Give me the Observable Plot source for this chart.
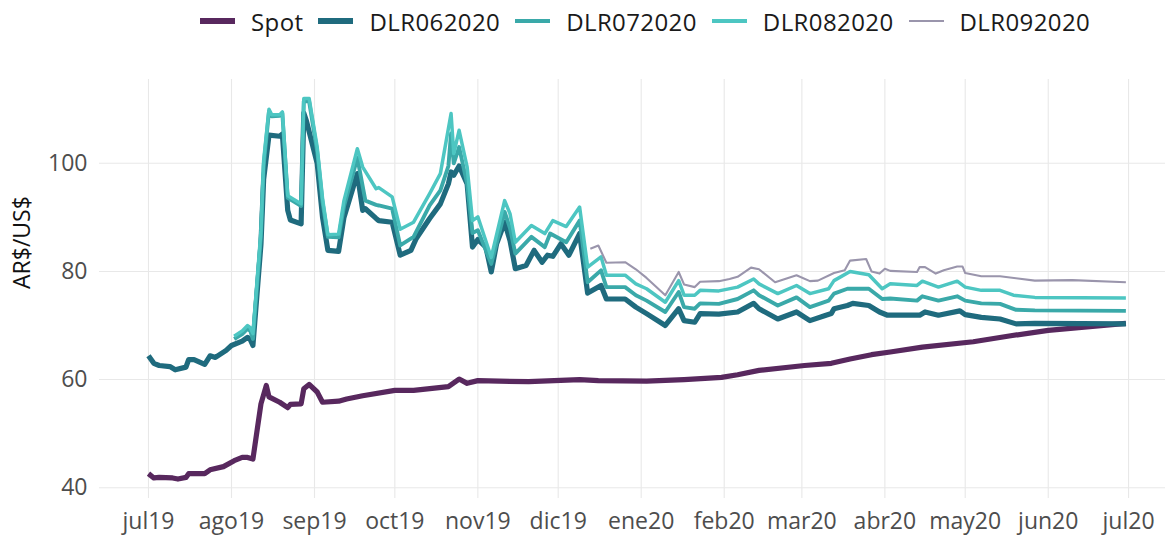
<!DOCTYPE html>
<html>
<head>
<meta charset="utf-8">
<script src="https://cdn.jsdelivr.net/npm/d3@7"></script>
<script src="https://cdn.jsdelivr.net/npm/@observablehq/plot@0.6"></script>
<style>
  body { margin: 0; background: #fff; }
  #wrap { position: relative; width: 1165px; height: 535px; overflow: hidden; font-family: 'Open Sans', sans-serif; }
  #legend { position: absolute; top: 0; left: 200px; height: 42px; display: flex; align-items: center; white-space: nowrap; }
  #legend .sw { display: inline-block; width: 35px; margin-right: 16px; }
  #legend .lb { font-size: 24px; letter-spacing: 0.4px; color: #1a1a1a; margin-right: 15px; }
  #chart { position: absolute; top: 45px; left: 0; }
</style>
</head>
<body>
<div id="wrap">
  <div id="legend"></div>
  <div id="chart"></div>
</div>
<script>
const seriesNames = ["Spot", "DLR062020", "DLR072020", "DLR082020", "DLR092020"];
const seriesColors = ["#58285e", "#1f6b7e", "#3aa9a9", "#4dc6c2", "#9a95ac"];
const seriesWidths = [5.2, 5.2, 3.9, 3.5, 2.1];

const monthTicks = ["2019-07-01","2019-08-01","2019-09-01","2019-10-01","2019-11-01","2019-12-01","2020-01-01","2020-02-01","2020-03-01","2020-04-01","2020-05-01","2020-06-01","2020-07-01"];
const monthLabels = ["jul19","ago19","sep19","oct19","nov19","dic19","ene20","feb20","mar20","abr20","may20","jun20","jul20"];
const yTicks = [40, 60, 80, 100];

const spot = [["2019-07-01",42.6],["2019-07-03",41.8],["2019-07-05",41.9],["2019-07-10",41.8],["2019-07-12",41.6],["2019-07-15",41.9],["2019-07-16",42.6],["2019-07-22",42.6],["2019-07-24",43.3],["2019-07-29",43.9],["2019-08-02",45.0],["2019-08-05",45.6],["2019-08-07",45.6],["2019-08-09",45.3],["2019-08-12",55.5],["2019-08-14",58.9],["2019-08-15",56.8],["2019-08-19",55.8],["2019-08-22",54.8],["2019-08-23",55.4],["2019-08-27",55.5],["2019-08-28",58.3],["2019-08-30",59.1],["2019-09-02",57.7],["2019-09-04",55.8],["2019-09-10",56.0],["2019-09-13",56.4],["2019-09-19",57.0],["2019-10-01",58.0],["2019-10-08",58.0],["2019-10-21",58.7],["2019-10-25",60.1],["2019-10-28",59.3],["2019-11-01",59.8],["2019-11-20",59.6],["2019-12-09",60.0],["2019-12-16",59.8],["2020-01-03",59.7],["2020-01-17",60.0],["2020-01-31",60.4],["2020-02-06",60.9],["2020-02-14",61.7],["2020-03-02",62.6],["2020-03-12",63.0],["2020-03-19",63.8],["2020-03-27",64.6],["2020-04-03",65.1],["2020-04-15",66.0],["2020-05-04",67.0],["2020-05-18",68.1],["2020-06-01",69.1],["2020-06-30",70.4]];

const dlr06 = [["2019-07-01",64.4],["2019-07-03",63.0],["2019-07-05",62.6],["2019-07-09",62.4],["2019-07-11",61.8],["2019-07-15",62.3],["2019-07-16",63.7],["2019-07-18",63.7],["2019-07-22",62.8],["2019-07-24",64.4],["2019-07-26",64.1],["2019-07-30",65.4],["2019-08-01",66.3],["2019-08-05",67.1],["2019-08-07",67.8],["2019-08-08",67.4],["2019-08-09",66.3],["2019-08-12",85.0],["2019-08-13",97.0],["2019-08-15",105.2],["2019-08-19",105.0],["2019-08-20",105.4],["2019-08-22",91.3],["2019-08-23",89.5],["2019-08-27",88.8],["2019-08-28",109.3],["2019-08-29",107.8],["2019-09-02",100.0],["2019-09-04",90.0],["2019-09-06",83.9],["2019-09-10",83.7],["2019-09-12",90.0],["2019-09-17",98.1],["2019-09-19",91.3],["2019-09-20",91.6],["2019-09-24",89.8],["2019-09-25",89.4],["2019-09-30",89.1],["2019-10-03",83.0],["2019-10-07",83.9],["2019-10-09",86.1],["2019-10-14",89.8],["2019-10-18",92.5],["2019-10-21",96.2],["2019-10-22",98.4],["2019-10-23",97.8],["2019-10-25",99.5],["2019-10-28",96.2],["2019-10-30",84.5],["2019-11-01",85.9],["2019-11-04",84.5],["2019-11-06",79.9],["2019-11-08",85.1],["2019-11-11",89.1],["2019-11-13",85.7],["2019-11-15",80.5],["2019-11-19",81.1],["2019-11-22",83.9],["2019-11-25",81.7],["2019-11-27",83.0],["2019-11-29",82.8],["2019-12-02",85.1],["2019-12-05",83.0],["2019-12-09",87.0],["2019-12-12",76.0],["2019-12-17",77.4],["2019-12-19",74.9],["2019-12-26",74.9],["2019-12-30",73.4],["2020-01-03",72.2],["2020-01-10",70.0],["2020-01-15",73.1],["2020-01-17",70.9],["2020-01-21",70.6],["2020-01-23",72.2],["2020-01-30",72.1],["2020-02-06",72.5],["2020-02-12",74.1],["2020-02-14",73.1],["2020-02-21",71.2],["2020-02-28",72.5],["2020-03-04",70.9],["2020-03-10",71.9],["2020-03-12",72.2],["2020-03-13",73.1],["2020-03-18",73.7],["2020-03-20",74.1],["2020-03-26",73.7],["2020-03-30",72.5],["2020-04-02",71.9],["2020-04-14",71.9],["2020-04-16",72.5],["2020-04-21",71.9],["2020-04-29",72.7],["2020-05-01",72.0],["2020-05-07",71.5],["2020-05-14",71.2],["2020-05-20",70.3],["2020-05-27",70.4],["2020-06-30",70.3]];

const dlr07 = [["2019-08-02",67.5],["2019-08-05",68.4],["2019-08-07",69.4],["2019-08-08",69.0],["2019-08-09",67.5],["2019-08-12",86.5],["2019-08-13",99.5],["2019-08-15",109.6],["2019-08-16",108.7],["2019-08-19",108.8],["2019-08-20",109.2],["2019-08-22",93.6],["2019-08-26",92.4],["2019-08-27",92.1],["2019-08-28",111.5],["2019-08-30",111.4],["2019-09-02",102.2],["2019-09-04",92.8],["2019-09-06",86.4],["2019-09-10",86.3],["2019-09-12",92.0],["2019-09-17",101.0],["2019-09-20",93.1],["2019-09-24",92.3],["2019-09-25",92.2],["2019-09-30",91.6],["2019-10-03",84.8],["2019-10-08",86.4],["2019-10-14",92.2],["2019-10-18",95.0],["2019-10-21",99.5],["2019-10-22",105.5],["2019-10-23",100.0],["2019-10-25",103.0],["2019-10-28",96.2],["2019-10-30",87.1],["2019-11-01",87.6],["2019-11-06",81.4],["2019-11-11",91.0],["2019-11-13",88.0],["2019-11-15",83.3],["2019-11-21",86.4],["2019-11-26",84.5],["2019-11-28",87.0],["2019-12-04",85.4],["2019-12-09",89.4],["2019-12-12",78.0],["2019-12-17",80.2],["2019-12-19",77.1],["2019-12-26",77.1],["2019-12-30",75.6],["2020-01-03",74.6],["2020-01-10",72.5],["2020-01-15",76.2],["2020-01-17",73.4],["2020-01-21",73.1],["2020-01-23",74.1],["2020-01-30",74.0],["2020-02-06",74.9],["2020-02-12",76.5],["2020-02-14",75.6],["2020-02-21",73.7],["2020-02-28",75.2],["2020-03-04",73.4],["2020-03-11",74.6],["2020-03-13",75.9],["2020-03-18",76.8],["2020-03-26",76.8],["2020-03-31",74.9],["2020-04-03",75.0],["2020-04-13",74.6],["2020-04-15",75.4],["2020-04-21",74.6],["2020-04-28",75.4],["2020-05-01",74.6],["2020-05-07",74.1],["2020-05-14",74.0],["2020-05-20",72.9],["2020-05-27",72.8],["2020-06-30",72.7]];

const dlr08 = [["2019-08-02",68.0],["2019-08-05",69.0],["2019-08-07",70.0],["2019-08-08",69.6],["2019-08-09",68.5],["2019-08-12",87.5],["2019-08-13",100.5],["2019-08-15",110.0],["2019-08-16",109.0],["2019-08-19",109.0],["2019-08-20",109.5],["2019-08-22",94.0],["2019-08-26",92.8],["2019-08-27",92.5],["2019-08-28",112.0],["2019-08-30",112.0],["2019-09-02",103.0],["2019-09-04",93.5],["2019-09-06",86.8],["2019-09-10",86.9],["2019-09-12",93.1],["2019-09-17",102.7],["2019-09-19",99.3],["2019-09-24",95.3],["2019-09-25",95.5],["2019-09-30",93.8],["2019-10-03",87.8],["2019-10-08",89.1],["2019-10-14",94.4],["2019-10-18",98.1],["2019-10-22",109.2],["2019-10-23",101.8],["2019-10-25",106.1],["2019-10-28",99.3],["2019-10-30",89.4],["2019-11-01",90.1],["2019-11-06",82.6],["2019-11-11",93.1],["2019-11-13",90.7],["2019-11-15",85.4],["2019-11-21",88.5],["2019-11-26",87.0],["2019-11-29",89.4],["2019-12-04",88.3],["2019-12-09",91.9],["2019-12-12",80.8],["2019-12-17",82.7],["2019-12-19",79.3],["2019-12-26",79.3],["2019-12-30",77.7],["2020-01-03",76.8],["2020-01-10",74.3],["2020-01-15",78.3],["2020-01-17",75.6],["2020-01-21",75.6],["2020-01-23",76.5],["2020-01-30",76.4],["2020-02-06",77.1],["2020-02-12",78.6],["2020-02-14",77.7],["2020-02-21",75.9],["2020-02-28",77.4],["2020-03-04",75.9],["2020-03-11",76.8],["2020-03-13",78.3],["2020-03-19",80.0],["2020-03-26",79.4],["2020-03-31",76.8],["2020-04-03",77.7],["2020-04-13",77.4],["2020-04-15",78.2],["2020-04-21",77.1],["2020-04-28",78.2],["2020-05-01",77.1],["2020-05-07",76.5],["2020-05-14",76.5],["2020-05-19",75.6],["2020-05-27",75.2],["2020-06-30",75.1]];

const dlr09 = [["2019-12-13",84.2],["2019-12-16",84.8],["2019-12-19",81.6],["2019-12-26",81.7],["2019-12-30",80.4],["2020-01-03",78.8],["2020-01-10",75.6],["2020-01-15",79.9],["2020-01-17",77.6],["2020-01-21",77.1],["2020-01-23",78.1],["2020-01-30",78.2],["2020-02-03",78.6],["2020-02-06",79.0],["2020-02-11",80.7],["2020-02-14",80.4],["2020-02-20",78.0],["2020-02-28",79.3],["2020-03-04",78.2],["2020-03-07",78.3],["2020-03-13",79.7],["2020-03-17",80.2],["2020-03-19",82.0],["2020-03-25",82.3],["2020-03-27",80.0],["2020-03-30",79.6],["2020-04-01",80.5],["2020-04-03",80.1],["2020-04-13",79.9],["2020-04-14",80.8],["2020-04-16",80.8],["2020-04-20",79.6],["2020-04-23",80.2],["2020-04-28",80.9],["2020-04-30",80.9],["2020-05-01",79.7],["2020-05-07",79.1],["2020-05-14",79.1],["2020-05-27",78.3],["2020-06-10",78.4],["2020-06-30",78.0]];

const seriesData = [spot, dlr06, dlr07, dlr08, dlr09];

const parse = d3.utcParse("%Y-%m-%d");
const tickDates = monthTicks.map(parse);
const labelByTime = new Map(tickDates.map((d, i) => [+d, monthLabels[i]]));

// legend
const legend = document.getElementById("legend");
seriesNames.forEach((name, i) => {
  const sw = document.createElement("span");
  sw.className = "sw";
  sw.style.height = seriesWidths[i] + "px";
  sw.style.background = seriesColors[i];
  const lb = document.createElement("span");
  lb.className = "lb";
  lb.textContent = name;
  legend.appendChild(sw);
  legend.appendChild(lb);
});

const lineMarks = seriesData.map((arr, i) =>
  Plot.line(arr.map(([d, v]) => ({date: parse(d), value: v})), {
    x: "date", y: "value",
    stroke: seriesColors[i], strokeWidth: seriesWidths[i],
    strokeLinejoin: "round", strokeLinecap: "butt"
  })
);

const chart = Plot.plot({
  width: 1165,
  height: 490,
  marginTop: 34,
  marginBottom: 37,
  marginLeft: 99,
  marginRight: 0,
  style: {fontFamily: "'Open Sans', sans-serif", fontSize: "23px", color: "#4d4d4d", background: "white", overflow: "visible"},
  x: {type: "utc", domain: [new Date(Date.UTC(2019, 5, 12, 17)), new Date(Date.UTC(2020, 6, 14, 19))]},
  y: {domain: [38, 115.5]},
  marks: [
    Plot.gridX(tickDates, {stroke: "#e8e8e8", strokeOpacity: 1, strokeWidth: 1.1}),
    Plot.gridY(yTicks, {stroke: "#e8e8e8", strokeOpacity: 1, strokeWidth: 1.1}),
    Plot.axisX(tickDates, {tickSize: 0, tickPadding: 14, fontSize: 23, label: null, tickFormat: d => labelByTime.get(+d)}),
    Plot.axisY(yTicks, {tickSize: 0, tickPadding: 12, fontSize: 23, label: null}),
    Plot.text(["AR$/US$"], {text: d => d, frameAnchor: "left", rotate: -90, dx: -77, fontSize: 23, fill: "#111"}),
    ...lineMarks
  ]
});
document.getElementById("chart").appendChild(chart);
</script>
</body>
</html>
